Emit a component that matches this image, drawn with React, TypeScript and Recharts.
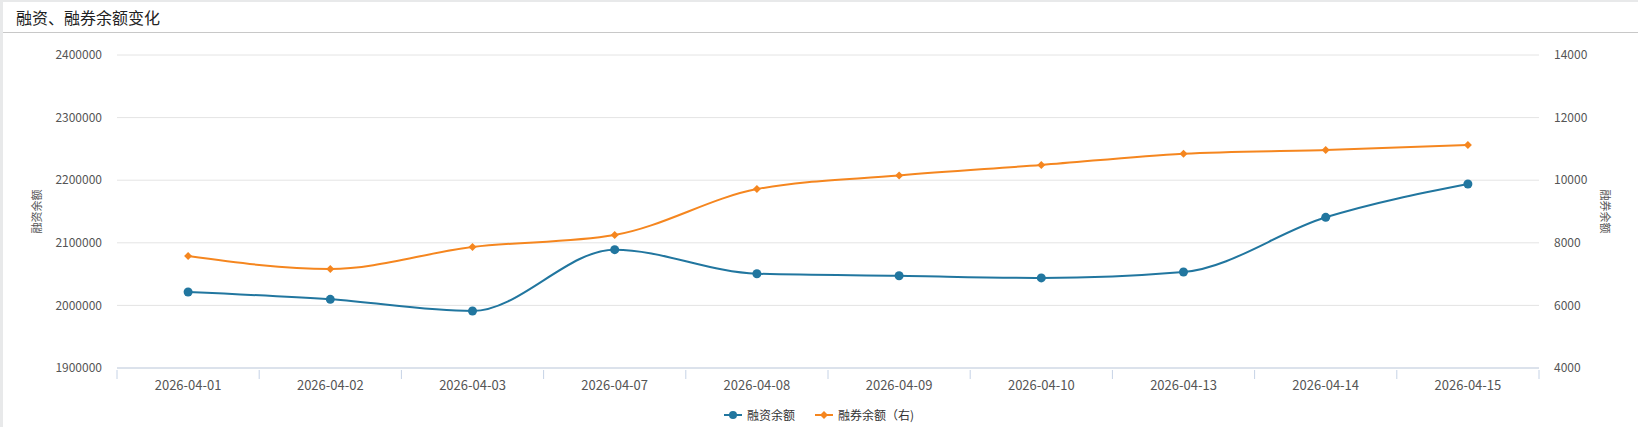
import { CartesianGrid, Line, LineChart, XAxis, YAxis } from "recharts";

const dates = [
  "2026-04-01",
  "2026-04-02",
  "2026-04-03",
  "2026-04-07",
  "2026-04-08",
  "2026-04-09",
  "2026-04-10",
  "2026-04-13",
  "2026-04-14",
  "2026-04-15",
];
const financing = [2021400, 2009700, 1991000, 2089000, 2050600, 2047300, 2043900, 2053300, 2140700, 2193900];
const lending = [7578, 7163, 7866, 8249, 9716, 10150, 10486, 10847, 10965, 11125];
const leftTicks = [1900000, 2000000, 2100000, 2200000, 2300000, 2400000];
const rightTicks = [4000, 6000, 8000, 10000, 12000, 14000];

const series = [
  { key: "financing", name: "融资余额", color: "#21769f", shape: "circle" },
  { key: "lending", name: "融券余额（右)", color: "#f5861f", shape: "diamond" },
];

const data = dates.map((d, i) => ({ date: d, financing: financing[i], lending: lending[i] }));

const FONT = '"Noto Sans CJK SC", "Noto Sans", sans-serif';
const W = 1638;
const H = 427;
const PLOT_LEFT = 117;
const PLOT_RIGHT = 1539;
const BAND = (PLOT_RIGHT - PLOT_LEFT) / dates.length;

// category boundary ticks + centred date label
const DateTick = (props: any) => {
  const { x, y, payload, index } = props;
  const isLast = index === dates.length - 1;
  return (
    <g>
      <line x1={x - BAND / 2} x2={x - BAND / 2} y1={y} y2={y + 9} stroke="#c6d3e6" />
      {isLast && <line x1={x + BAND / 2} x2={x + BAND / 2} y1={y} y2={y + 9} stroke="#c6d3e6" />}
      <text x={x} y={y + 15} dy="0.355em" textAnchor="middle" fill="#555" fontSize={13} fontFamily={FONT}>
        {payload.value}
      </text>
    </g>
  );
};

const Diamond = (props: any) => {
  const { cx, cy, fill } = props;
  if (cx == null || cy == null) return null;
  const s = 4;
  return <path d={`M${cx},${cy - s}L${cx + s},${cy}L${cx},${cy + s}L${cx - s},${cy}Z`} fill={fill} />;
};

const Circle = (props: any) => {
  const { cx, cy, fill } = props;
  if (cx == null || cy == null) return null;
  return <circle cx={cx} cy={cy} r={4.5} fill={fill} />;
};

const App = () => {
  return (
    <div style={{ position: "absolute", left: 0, top: 0, width: W, height: H, background: "#e8e9ea", fontFamily: FONT }}>
      <div style={{ position: "absolute", left: 3, top: 2, right: 0, bottom: 0, background: "#fff" }} />
      <div
        style={{
          position: "absolute",
          left: 3,
          top: 2,
          right: 0,
          height: 30,
          borderBottom: "1px solid #c8c8c8",
          fontSize: 16,
          lineHeight: "30px",
          paddingLeft: 13,
          color: "#222",
        }}
      >
        融资、融券余额变化
      </div>
      <div style={{ position: "absolute", left: 0, top: 0 }}>
        <LineChart width={W} height={H} data={data} margin={{ top: 55, bottom: 0, left: 37, right: 19 }}>
          <CartesianGrid yAxisId="left" vertical={false} stroke="#e4e4e4" />
          <XAxis
            dataKey="date"
            axisLine={{ stroke: "#c6d3e6" }}
            tickLine={false}
            tickSize={0}
            tick={<DateTick />}
            interval={0}
            height={59}
            padding={{ left: BAND / 2, right: BAND / 2 }}
          />
          <YAxis
            yAxisId="left"
            width={80}
            domain={[1900000, 2400000]}
            ticks={leftTicks}
            axisLine={false}
            tickLine={false}
            tickSize={0}
            tickMargin={15}
            tick={{ fill: "#555", fontSize: 12, fontFamily: FONT }}
            label={{
              value: "融资余额",
              angle: -90,
              position: "insideLeft",
              offset: 0,
              style: { textAnchor: "middle", fill: "#555", fontSize: 11, fontFamily: FONT },
            }}
          />
          <YAxis
            yAxisId="right"
            orientation="right"
            width={80}
            domain={[4000, 14000]}
            ticks={rightTicks}
            axisLine={false}
            tickLine={false}
            tickSize={0}
            tickMargin={15}
            tick={{ fill: "#555", fontSize: 12, fontFamily: FONT }}
            label={{
              value: "融券余额",
              angle: 90,
              position: "insideRight",
              offset: 14,
              style: { textAnchor: "middle", fill: "#555", fontSize: 11, fontFamily: FONT },
            }}
          />
          <Line
            yAxisId="left"
            type="monotone"
            dataKey="financing"
            name={series[0].name}
            stroke={series[0].color}
            strokeWidth={2}
            dot={<Circle fill={series[0].color} />}
            activeDot={false}
            isAnimationActive={false}
          />
          <Line
            yAxisId="right"
            type="monotone"
            dataKey="lending"
            name={series[1].name}
            stroke={series[1].color}
            strokeWidth={2}
            dot={<Diamond fill={series[1].color} />}
            activeDot={false}
            isAnimationActive={false}
          />
        </LineChart>
      </div>
      <div
        style={{
          position: "absolute",
          top: 406,
          left: 0,
          width: W,
          display: "flex",
          justifyContent: "center",
          gap: 20,
          fontSize: 12,
          color: "#333",
          lineHeight: "18px",
        }}
      >
        {series.map((s) => (
          <div key={s.key} style={{ display: "flex", alignItems: "center" }}>
            <svg width={18} height={10} style={{ marginRight: 5 }}>
              <line x1={0} x2={18} y1={5} y2={5} stroke={s.color} strokeWidth={2} />
              {s.shape === "circle" ? (
                <circle cx={9} cy={5} r={4} fill={s.color} />
              ) : (
                <path d="M9,1L13,5L9,9L5,5Z" fill={s.color} />
              )}
            </svg>
            <span>{s.name}</span>
          </div>
        ))}
      </div>
    </div>
  );
};

export default App;
